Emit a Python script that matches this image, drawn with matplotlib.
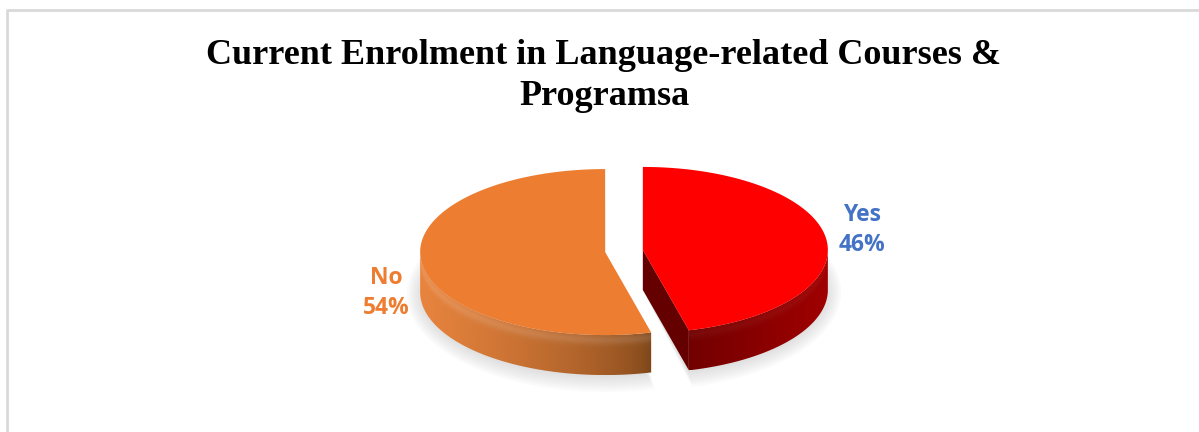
import numpy as np
import matplotlib.pyplot as plt
from matplotlib.patches import Polygon
from matplotlib.colors import to_rgb

# survey answers, percent of respondents
labels = ["Yes", "No"]
shares = [46, 54]

top_colors = ["#FF0000", "#ED7D31"]
wall_front = ["#720000", "#7A4418"]   # colour where the wall meets the cut
wall_side = ["#A00000", "#E8843E"]    # colour at the far side of the wall
face_colors = ["#640000", "#7A4418"]
label_colors = ["#4472C4", "#ED7D31"]

title = "Current Enrolment in Language-related Courses &\nProgramsa"

# pie geometry in pixel units (y grows downward)
CX, CY = 624, 251
RX, RY = 185, 83
DEPTH = 40
EXPLODE = 19


def pt(t, dx, dy, drop=0.0):
    """Point on the top ellipse at clockwise angle t (deg from 12 o'clock)."""
    r = np.radians(t)
    return CX + dx + RX * np.sin(r), CY + dy - RY * np.cos(r) + drop


def shaded_wall(ax, ts, dx, dy, c_from, c_to, gamma, bevel):
    """Curved outer wall between angles ts, filled with a clipped gradient."""
    xs, ys = pt(ts, dx, dy)
    verts = list(zip(xs, ys)) + list(zip(xs[::-1], ys[::-1] + DEPTH))
    clip = Polygon(verts, closed=True, fc="none", ec="none")
    ax.add_patch(clip)
    x0, x1 = xs.min(), xs.max()
    y0, y1 = ys.min(), ys.max() + DEPTH
    gx = np.linspace(x0, x1, int(x1 - x0) + 1)
    gy = np.linspace(y0, y1, int(y1 - y0) + 1)
    order = np.argsort(xs)
    ytop = np.interp(gx, xs[order], ys[order])
    f = (gx - xs[0]) / (xs[-1] - xs[0])
    f = np.clip(f, 0, 1) ** gamma
    a, b = np.array(to_rgb(c_from)), np.array(to_rgb(c_to))
    col = a[None, None, :] + (b - a)[None, None, :] * f[None, :, None]
    d = gy[:, None] - ytop[None, :]
    glow = bevel * np.exp(-((d - 5) / 5) ** 2)
    img = np.clip(col + glow[:, :, None] * (1 - col), 0, 1)
    im = ax.imshow(img, extent=[x0, x1, y1, y0], aspect="auto",
                   interpolation="bilinear", zorder=1)
    im.set_clip_path(clip)


fig = plt.figure(figsize=(11.99, 4.32), dpi=100)
ax = fig.add_axes([0, 0, 1, 1])
ax.axis("off")

# chart frame (only top and left edges fall inside the image)
ax.plot([7, 7, 1199], [432, 10, 10], color="#D9D9D9", lw=2, solid_capstyle="butt")

bounds = np.concatenate([[0], np.cumsum(shares)]) / sum(shares) * 360
for i, lab in enumerate(labels):
    t0, t1 = bounds[i], bounds[i + 1]
    mid = (t0 + t1) / 2
    dx = EXPLODE * np.sin(np.radians(mid))
    dy = -EXPLODE * np.cos(np.radians(mid)) * RY / RX

    # soft floor shadow
    ts = np.linspace(t0, t1, 200)
    for s in range(7):
        xs, ys = pt(ts, dx, dy)
        xs = CX + dx + (xs - CX - dx) * (1 + s * 0.012)
        ys = CY + dy + (ys - CY - dy) * (1 + s * 0.03) + DEPTH + 2
        ax.add_patch(Polygon([(CX + dx, CY + dy + DEPTH)] + list(zip(xs, ys)),
                             closed=True, fc="#808080", ec="none", alpha=0.035,
                             zorder=0.5))

    # radial cut face toward the viewer (end side of the first slice)
    if i == 0:
        apex = (CX + dx, CY + dy)
        ex, ey = pt(t1, dx, dy)
        ax.add_patch(Polygon([apex, (ex, ey), (ex, ey + DEPTH),
                              (apex[0], apex[1] + DEPTH)],
                             closed=True, fc=face_colors[i], ec="none", zorder=1))

    # front outer wall
    lo, hi = max(t0, 90), min(t1, 270)
    if hi > lo:
        if i == 0:
            wall_ts = np.linspace(hi, lo, 200)
            shaded_wall(ax, wall_ts, dx, dy, wall_front[i], wall_side[i], 1.0, 0.04)
        else:
            wall_ts = np.linspace(lo, hi, 200)
            shaded_wall(ax, wall_ts, dx, dy, wall_front[i], wall_side[i], 0.6, 0.12)

    # top surface
    xs, ys = pt(ts, dx, dy)
    verts = [(CX + dx, CY + dy)] + list(zip(xs, ys))
    ax.add_patch(Polygon(verts, closed=True, fc=top_colors[i], ec="none", zorder=2))

# data labels outside each slice
label_nudge = [(0, -21), (0, 42)]
for i, lab in enumerate(labels):
    mid = (bounds[i] + bounds[i + 1]) / 2
    lx = CX + (RX + EXPLODE + 36) * np.sin(np.radians(mid)) + label_nudge[i][0]
    ly = CY + label_nudge[i][1]
    ax.text(lx, ly, f"{lab}\n{shares[i]}%", ha="center", va="center",
            color=label_colors[i], fontsize=16.5, fontweight="bold",
            family="Open Sans", linespacing=1.35, zorder=3)

ax.text(604, 76, title, ha="center", va="center", fontsize=26,
        fontweight="bold", family="Liberation Serif", linespacing=1.32)

ax.set_xlim(0, 1199)
ax.set_ylim(432, 0)
fig.savefig("out.png", dpi=100)
